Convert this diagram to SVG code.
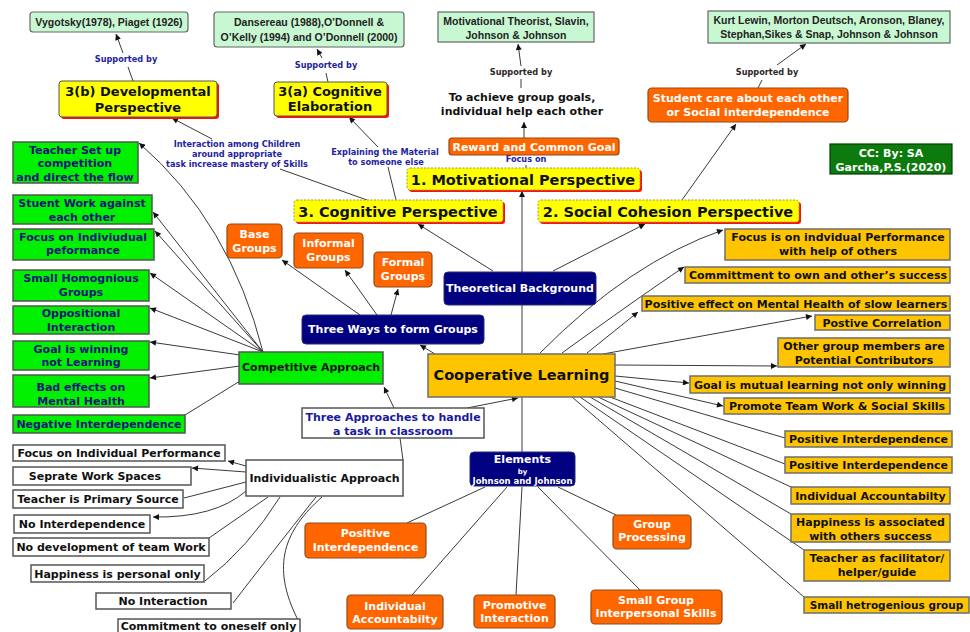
<svg xmlns="http://www.w3.org/2000/svg" width="970" height="632" viewBox="0 0 970 632">
<defs>
  <marker id="arr" viewBox="0 0 10 10" refX="10" refY="5" markerWidth="7" markerHeight="6" markerUnits="userSpaceOnUse" orient="auto">
    <path d="M0,0 L10,5 L0,10 z" fill="#111"/>
  </marker>
  <style>
    .ln{stroke:#3a3a3a;stroke-width:1;fill:none}
    .ar{marker-end:url(#arr)}
    text{font-family:"DejaVu Sans",Verdana,sans-serif;font-weight:bold;font-size:11px;text-anchor:middle;fill:#111}
    .cit{font-family:"Liberation Sans",Arial,sans-serif;font-size:10.5px;fill:#222}
    .lbl{font-size:8.2px;fill:#1f1f9f}
    .lblk{font-size:8.2px;fill:#2a2a2a}
    .wt{fill:#fff}
    .nv{fill:#15157a}
    .bl{fill:#1a1a9a}
    .hd{font-size:14.5px}
    .hd2{font-size:13px}
    .or{fill:#ff6600;stroke:#8f4a18;stroke-width:1.2}
    .navy{fill:#000080;stroke:#2c2c70;stroke-width:1}
    .gold{fill:#ffc400;stroke:#6e6e6e;stroke-width:1.5}
    .grn{fill:#00f000;stroke:#4d5a4d;stroke-width:1.5}
    .wht{fill:#fff;stroke:#555;stroke-width:1.5}
    .cbox{fill:#c8f8d2;stroke:#666;stroke-width:1.2}
    .yel{fill:#ffff00;stroke:#9a9a50;stroke-width:1;stroke-dasharray:2 1.5}
    .yel2{fill:#ffff00;stroke:#555;stroke-width:1}
    .sh{fill:#ff1010}
    .cc{fill:#0c7a0c;stroke:#034003;stroke-width:1.2}
  </style>
</defs>
<rect width="970" height="632" fill="#fff"/>

<!-- connectors -->
<g id="connectors">
  <path class="ln ar" d="M133,81 L128,67 M123,53 L116,34"/>
  <path class="ln ar" d="M328,82 L326,73 M322,58 L317,49"/>
  <path class="ln ar" d="M521,88 L521,79 M521,66 L518,44"/>
  <path class="ln ar" d="M524,138 L524,122"/>
  <path class="ln" d="M526,168 L526,165"/>
  <path class="ln ar" d="M758,88 L762,80 M777,65 L806,44"/>
  <path class="ln ar" d="M682,200 L736,124"/>
  <path class="ln ar" d="M367,200 L280,169 M212,139 L172,118"/>
  <path class="ln ar" d="M396,200 L388,167 M378,147 L349,117"/>
  <path class="ln ar" d="M493,271 L418,224"/>
  <path class="ln ar" d="M553,271 L645,224"/>
  <path class="ln ar" d="M522,353 L522,191"/>
  <!-- groups -->
  <path class="ln ar" d="M360,315 L282,260"/>
  <path class="ln ar" d="M377,315 L345,270"/>
  <path class="ln ar" d="M391,315 L398,289"/>
  <path class="ln ar" d="M435,354 L420,345"/>
  <!-- approaches -->
  <path class="ln ar" d="M394,408 L384,387"/>
  <path class="ln ar" d="M467,408 L518,398"/>
  <path class="ln" d="M400,438 L403,460"/>
  <path class="ln" d="M522,397 L522,452"/>
  <!-- elements -->
  <path class="ln" d="M485,487 L407,523"/>
  <path class="ln" d="M507,487 L412,595"/>
  <path class="ln" d="M522,487 L516,595"/>
  <path class="ln" d="M538,487 L640,590"/>
  <path class="ln" d="M558,487 L616,515"/>
  <!-- competitive -->
  <path class="ln ar" d="M263,352 Q230,222 139,143"/>
  <path class="ln ar" d="M263,352 L153,212"/>
  <path class="ln ar" d="M263,352 L155,231"/>
  <path class="ln ar" d="M263,352 L150,273"/>
  <path class="ln ar" d="M263,352 L150,308"/>
  <path class="ln ar" d="M240,355 L150,342"/>
  <path class="ln ar" d="M240,366 L150,378"/>
  <path class="ln" d="M240,381 L185,415"/>
  <!-- individualistic -->
  <path class="ln ar" d="M246,466 L228,461"/>
  <path class="ln ar" d="M246,472 L192,468"/>
  <path class="ln" d="M246,482 L184,498"/>
  <path class="ln ar" d="M246,491 Q215,518 153,517"/>
  <path class="ln" d="M268,497 L209,538"/>
  <path class="ln" d="M280,497 Q248,548 205,581"/>
  <path class="ln" d="M316,497 Q270,555 233,603"/>
  <path class="ln" d="M322,497 C285,530 270,565 298,620"/>
  <!-- cooperative features -->
  <path class="ln ar" d="M540,353 Q630,262 723,230"/>
  <path class="ln ar" d="M562,353 Q635,300 684,267"/>
  <path class="ln ar" d="M587,353 L638,312"/>
  <path class="ln ar" d="M603,354 L812,316"/>
  <path class="ln ar" d="M615,365 L777,366"/>
  <path class="ln ar" d="M615,376 L689,383"/>
  <path class="ln ar" d="M615,381 L723,406"/>
  <path class="ln" d="M615,388 L785,438"/>
  <path class="ln" d="M610,397 L785,464"/>
  <path class="ln" d="M598,397 L791,487"/>
  <path class="ln" d="M590,397 L791,514"/>
  <path class="ln" d="M580,397 L804,550"/>
  <path class="ln" d="M572,397 L804,597"/>
</g>

<!-- sources -->
<g id="src-vygotsky"><rect class="cbox" x="30" y="12" width="158" height="20" rx="3"/><text class="cit" x="109" y="26">Vygotsky(1978), Piaget (1926)</text></g>
<g id="src-dansereau"><rect class="cbox" x="214" y="12" width="190" height="35" rx="3"/><text class="cit" x="309" y="26">Dansereau (1988),O’Donnell &amp;</text><text class="cit" x="309" y="41">O’Kelly (1994) and O’Donnell (2000)</text></g>
<g id="src-slavin"><rect class="cbox" x="438" y="12" width="156" height="30"/><text class="cit" x="516" y="25">Motivational Theorist, Slavin,</text><text class="cit" x="516" y="39">Johnson &amp; Johnson</text></g>
<g id="src-lewin"><rect class="cbox" x="708" y="11" width="242" height="32"/><text class="cit" x="829" y="24">Kurt Lewin, Morton Deutsch, Aronson, Blaney,</text><text class="cit" x="829" y="38">Stephan,Sikes &amp; Snap, Johnson &amp; Johnson</text></g>

<!-- edge labels -->
<g id="labels">
  <text class="lbl" x="126" y="62">Supported by</text>
  <text class="lbl" x="326" y="68">Supported by</text>
  <text class="lblk" x="521" y="75">Supported by</text>
  <text class="lblk" x="767" y="75">Supported by</text>
  <text class="lbl" x="237" y="147">Interaction among Children</text>
  <text class="lbl" x="237" y="157">around appropriate</text>
  <text class="lbl" x="237" y="167">task increase mastery of Skills</text>
  <text class="lbl" x="385" y="155">Explaining the Material</text>
  <text class="lbl" x="386" y="165">to someone else</text>
  <text class="lbl" x="526" y="162">Focus on</text>
</g>

<!-- perspectives -->
<g id="dev"><rect class="sh" x="61" y="83" width="158" height="36" rx="3"/><rect class="yel2" x="59" y="81" width="158" height="36" rx="3"/><text class="hd2" x="138" y="96">3(b) Developmental</text><text class="hd2" x="138" y="112">Perspective</text></g>
<g id="elab"><rect class="sh" x="276" y="84" width="113" height="34" rx="3"/><rect class="yel2" x="274" y="82" width="113" height="34" rx="3"/><text class="hd2" x="330" y="96">3(a) Cognitive</text><text class="hd2" x="330" y="111">Elaboration</text></g>
<g id="goal-text"><text x="522" y="101">To achieve group goals,</text><text x="522" y="115">individual help each other</text></g>
<g id="reward"><rect class="or" x="449" y="138" width="170" height="17" rx="3"/><text class="wt" x="534" y="151">Reward and Common Goal</text></g>
<g id="motivational"><rect class="sh" x="409" y="170" width="233" height="22" rx="3"/><rect class="yel" x="407" y="168" width="233" height="22" rx="3"/><text class="hd" x="523" y="185">1. Motivational Perspective</text></g>
<g id="cognitive"><rect class="sh" x="296" y="202" width="209" height="22" rx="3"/><rect class="yel" x="294" y="200" width="209" height="22" rx="3"/><text class="hd" x="398" y="217">3. Cognitive Perspective</text></g>
<g id="social"><rect class="sh" x="540" y="202" width="261" height="22" rx="3"/><rect class="yel" x="538" y="200" width="261" height="22" rx="3"/><text class="hd" x="668" y="217">2. Social Cohesion Perspective</text></g>
<g id="student-care"><rect class="or" x="648" y="88" width="200" height="34" rx="4"/><text class="wt" x="748" y="102">Student care about each other</text><text class="wt" x="748" y="116">or Social interdependence</text></g>
<g id="credit"><rect class="cc" x="830" y="144" width="122" height="30"/><text class="wt" x="891" y="157">CC: By: SA</text><text class="wt" x="891" y="171">Garcha,P.S.(2020)</text></g>

<!-- centre -->
<g id="theory"><rect class="navy" x="444" y="272" width="152" height="33" rx="4"/><text class="wt" x="520" y="292">Theoretical Background</text></g>
<g id="three-ways"><rect class="navy" x="302" y="315" width="182" height="29" rx="4"/><text class="wt" x="393" y="333">Three Ways to form Groups</text></g>
<g id="base"><rect class="or" x="227" y="224" width="55" height="34" rx="4"/><text class="wt" x="254.5" y="238">Base</text><text class="wt" x="254.5" y="252">Groups</text></g>
<g id="informal"><rect class="or" x="294" y="233" width="69" height="35" rx="4"/><text class="wt" x="328.5" y="247">Informal</text><text class="wt" x="328.5" y="261">Groups</text></g>
<g id="formal"><rect class="or" x="374" y="252" width="58" height="35" rx="4"/><text class="wt" x="403" y="266">Formal</text><text class="wt" x="403" y="280">Groups</text></g>
<g id="coop"><rect class="gold" x="428" y="354" width="187" height="43"/><text class="hd" x="521.5" y="380">Cooperative Learning</text></g>
<g id="approaches"><rect class="wht" x="302" y="408" width="182" height="30"/><text class="bl" x="393" y="421">Three Approaches to handle</text><text class="bl" x="393" y="435">a task in classroom</text></g>
<g id="elements"><rect class="navy" x="470" y="452" width="105" height="34" rx="4"/><text class="wt" x="522.5" y="463">Elements</text><text class="wt" x="522.5" y="474" style="font-size:7px">by</text><text class="wt" x="522.5" y="484" style="font-size:8.5px">Johnson and Johnson</text></g>

<!-- elements -->
<g id="el-posint"><rect class="or" x="305" y="523" width="121" height="35" rx="4"/><text class="wt" x="365.5" y="537">Positive</text><text class="wt" x="365.5" y="551">Interdependence</text></g>
<g id="el-indacc"><rect class="or" x="347" y="595" width="96" height="34" rx="4"/><text class="wt" x="395" y="610">Individual</text><text class="wt" x="395" y="623">Accountabilty</text></g>
<g id="el-promotive"><rect class="or" x="474" y="595" width="81" height="33" rx="4"/><text class="wt" x="514.5" y="609">Promotive</text><text class="wt" x="514.5" y="622">Interaction</text></g>
<g id="el-small"><rect class="or" x="591" y="590" width="131" height="34" rx="4"/><text class="wt" x="656" y="604">Small Group</text><text class="wt" x="656" y="617">Interpersonal Skills</text></g>
<g id="el-processing"><rect class="or" x="613" y="515" width="78" height="34" rx="4"/><text class="wt" x="652" y="528">Group</text><text class="wt" x="652" y="541">Processing</text></g>

<!-- competitive approach -->
<g id="competitive"><rect class="grn" x="239" y="352" width="144" height="32"/><text x="311" y="371">Competitive Approach</text></g>
<g id="cp-teacher"><rect class="grn" x="13" y="142" width="125" height="41"/><text class="nv" x="75" y="154">Teacher Set up</text><text class="nv" x="75" y="167">competition</text><text class="nv" x="75" y="181">and direct the flow</text></g>
<g id="cp-against"><rect class="grn" x="13" y="195" width="139" height="29"/><text class="nv" x="82" y="207">Stuent Work against</text><text class="nv" x="82" y="221">each other</text></g>
<g id="cp-focus"><rect class="grn" x="13" y="229" width="141" height="31"/><text class="nv" x="83" y="241">Focus on Indiviudual</text><text class="nv" x="83" y="254">peformance</text></g>
<g id="cp-small"><rect class="grn" x="13" y="270" width="136" height="31"/><text class="nv" x="81" y="282">Small Homognious</text><text class="nv" x="81" y="296">Groups</text></g>
<g id="cp-opp"><rect class="grn" x="13" y="306" width="136" height="28"/><text class="nv" x="81" y="317">Oppositional</text><text class="nv" x="81" y="331">Interaction</text></g>
<g id="cp-goal"><rect class="grn" x="13" y="341" width="136" height="29"/><text class="nv" x="81" y="353">Goal is winning</text><text class="nv" x="81" y="366">not Learning</text></g>
<g id="cp-bad"><rect class="grn" x="13" y="375" width="136" height="32"/><text class="nv" x="81" y="391">Bad effects on</text><text class="nv" x="81" y="405">Mental Health</text></g>
<g id="cp-neg"><rect class="grn" x="13" y="415" width="172" height="18"/><text class="nv" x="99" y="428">Negative Interdependence</text></g>

<!-- individualistic approach -->
<g id="individualistic"><rect class="wht" x="246" y="460" width="157" height="36"/><text x="324.5" y="482">Individualistic Approach</text></g>
<g id="in-focus"><rect class="wht" x="13" y="445" width="212" height="16"/><text x="119" y="457">Focus on Individual Performance</text></g>
<g id="in-spaces"><rect class="wht" x="13" y="467" width="178" height="18"/><text x="95" y="480">Seprate Work Spaces</text></g>
<g id="in-teacher"><rect class="wht" x="13" y="490" width="170" height="18"/><text x="98" y="503">Teacher is Primary Source</text></g>
<g id="in-nointer"><rect class="wht" x="14" y="515" width="136" height="18"/><text x="82" y="528">No Interdependence</text></g>
<g id="in-nodev"><rect class="wht" x="13" y="538" width="196" height="18"/><text x="111" y="551">No development of team Work</text></g>
<g id="in-happy"><rect class="wht" x="31" y="565" width="173" height="17"/><text x="117.5" y="578">Happiness is personal only</text></g>
<g id="in-nointeraction"><rect class="wht" x="96" y="593" width="135" height="16"/><text x="163" y="605">No Interaction</text></g>
<g id="in-commit"><rect class="wht" x="118" y="619" width="182" height="20"/><text x="208.5" y="630">Commitment to oneself only</text></g>

<!-- cooperative features -->
<g id="co-focus"><rect class="gold" x="725" y="229" width="225" height="31"/><text x="838" y="241">Focus is on indvidual Performance</text><text x="838" y="255">with help of others</text></g>
<g id="co-commit"><rect class="gold" x="685" y="267" width="265" height="16"/><text x="818" y="279">Committment to own and other’s success</text></g>
<g id="co-mental"><rect class="gold" x="642" y="296" width="308" height="15"/><text x="796" y="307.5">Positive effect on Mental Health of slow learners</text></g>
<g id="co-corr"><rect class="gold" x="815" y="315" width="135" height="15"/><text x="882" y="327">Postive Correlation</text></g>
<g id="co-others"><rect class="gold" x="778" y="338" width="172" height="29"/><text x="864" y="350">Other group members are</text><text x="864" y="364">Potential Contributors</text></g>
<g id="co-goal"><rect class="gold" x="690" y="376" width="260" height="17"/><text x="820" y="388.5">Goal is mutual learning not only winning</text></g>
<g id="co-team"><rect class="gold" x="724" y="398" width="226" height="16"/><text x="837" y="410">Promote Team Work &amp; Social Skills</text></g>
<g id="co-posint1"><rect class="gold" x="785" y="431" width="167" height="16"/><text x="868.5" y="443">Positive Interdependence</text></g>
<g id="co-posint2"><rect class="gold" x="785" y="457" width="167" height="16"/><text x="868.5" y="469">Positive Interdependence</text></g>
<g id="co-indacc"><rect class="gold" x="791" y="487" width="159" height="17"/><text x="870.5" y="499.5">Individual Accountabilty</text></g>
<g id="co-happy"><rect class="gold" x="791" y="514" width="159" height="28"/><text x="870.5" y="526">Happiness is associated</text><text x="870.5" y="540">with others success</text></g>
<g id="co-teacher"><rect class="gold" x="804" y="550" width="146" height="31"/><text x="877" y="562">Teacher as facilitator/</text><text x="877" y="576">helper/guide</text></g>
<g id="co-hetero"><rect class="gold" x="804" y="597" width="165" height="16"/><text x="886.5" y="609" style="font-size:10.5px">Small hetrogenious group</text></g>
</svg>
